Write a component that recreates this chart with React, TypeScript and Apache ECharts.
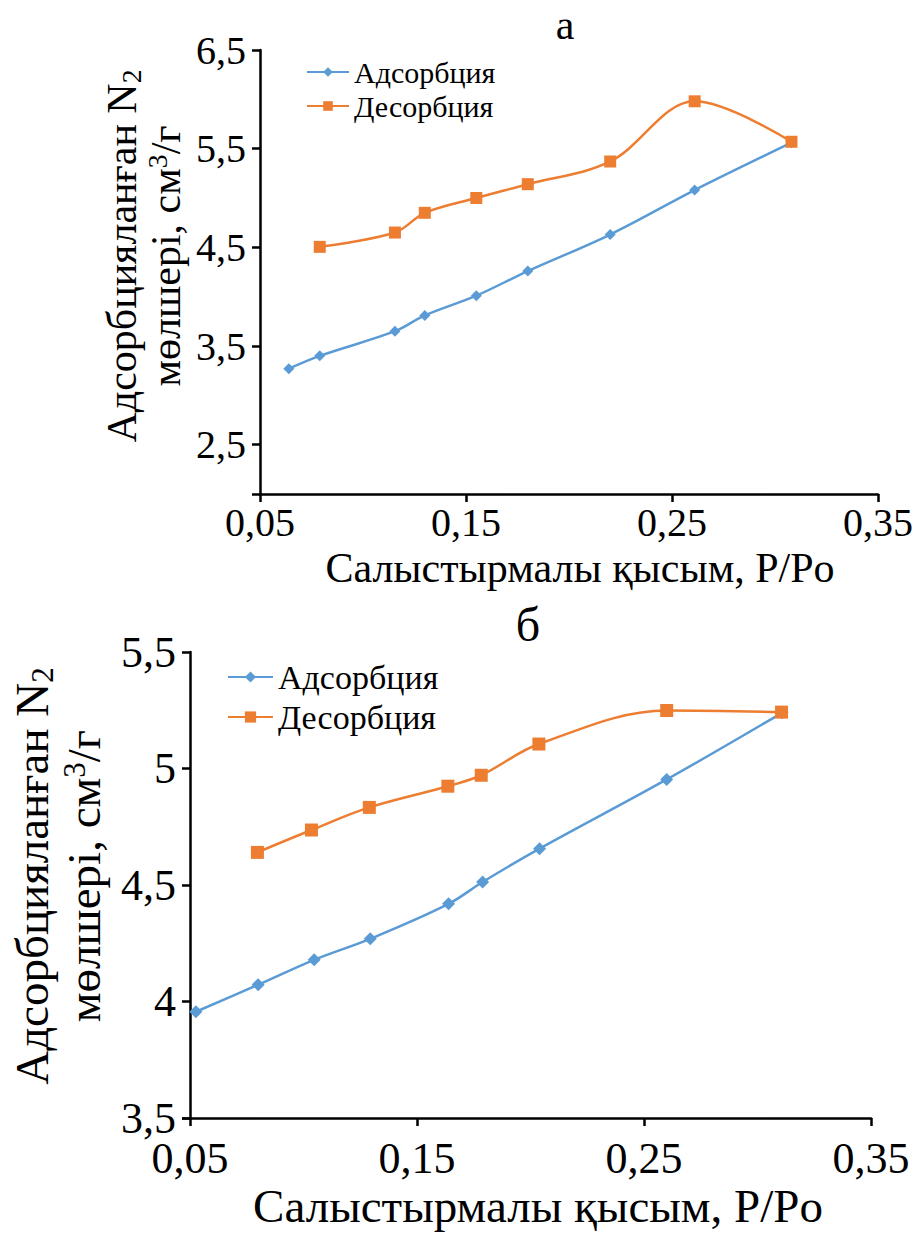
import React, { useEffect, useRef } from 'react';
import * as echarts from 'echarts';

const seriesNames = ['Адсорбция', 'Десорбция'];

// Chart "а"
const aAdsX = [0.064, 0.079, 0.1155, 0.13, 0.155, 0.18, 0.22, 0.261, 0.308];
const aAdsY = [3.27, 3.4, 3.65, 3.81, 4.01, 4.26, 4.63, 5.08, 5.56];
const aDesX = [0.079, 0.1155, 0.13, 0.155, 0.18, 0.22, 0.261, 0.308];
const aDesY = [4.505, 4.65, 4.85, 5.0, 5.14, 5.37, 5.98, 5.57];
const aYLabels = [2.5, 3.5, 4.5, 5.5, 6.5];

// Chart "б"
const bAdsX = [0.0526, 0.08, 0.1047, 0.1294, 0.1639, 0.1789, 0.204, 0.26, 0.3108];
const bAdsY = [3.956, 4.072, 4.179, 4.269, 4.419, 4.513, 4.656, 4.953, 5.239];
const bDesX = [0.0797, 0.1035, 0.129, 0.1636, 0.1783, 0.2037, 0.26, 0.3106];
const bDesY = [4.64, 4.736, 4.833, 4.924, 4.971, 5.105, 5.249, 5.242];
const bYLabels = [3.5, 4, 4.5, 5, 5.5];

const xTickLabels = [0.05, 0.15, 0.25, 0.35];

const FONT = "'Liberation Serif', serif";
const BLUE = '#5B9BD5';
const ORANGE = '#ED7D31';

const zip = (xs: number[], ys: number[]) => xs.map((x, i) => [x, ys[i]]);
const fmt = (v: number) => String(Number(v.toFixed(2))).replace('.', ',');

export default function App() {
  const ref = useRef<HTMLDivElement>(null);
  useEffect(() => {
    document.body.style.margin = '0';
    const chart = echarts.init(ref.current!, null, { renderer: 'svg' });

    const axisLine = { show: true, lineStyle: { color: '#000', width: 2.5 } };
    const xAxisBase = (gi: number, fs: number, margin: number) => ({
      type: 'value',
      gridIndex: gi,
      min: 0.05,
      max: 0.35,
      interval: 0.1,
      axisLine,
      axisTick: { show: true, inside: false, length: 8, lineStyle: { color: '#000', width: 2.5 } },
      axisLabel: {
        customValues: xTickLabels,
        formatter: (v: number) => fmt(v),
        fontFamily: FONT,
        fontSize: fs,
        color: '#000',
        margin,
      },
      splitLine: { show: false },
    });
    const yAxisBase = (gi: number, min: number, max: number, labels: number[], fs: number) => ({
      type: 'value',
      gridIndex: gi,
      min,
      max,
      interval: 0.5,
      axisLine,
      axisTick: {
        show: true,
        inside: false,
        length: 8,
        customValues: [min, ...labels],
        lineStyle: { color: '#000', width: 2.5 },
      },
      axisLabel: {
        customValues: labels,
        formatter: (v: number) => fmt(v),
        fontFamily: FONT,
        fontSize: fs,
        color: '#000',
        margin: 14,
      },
      splitLine: { show: false },
    });

    const mkSeries = (name: string, data: number[][], gi: number, color: string, symbol: string, size: number) => ({
      type: 'line',
      name,
      xAxisIndex: gi,
      yAxisIndex: gi,
      data,
      smooth: 0.35,
      symbol,
      symbolSize: size,
      showSymbol: true,
      lineStyle: { color, width: 2.5 },
      itemStyle: { color },
    });

    const yTitle = (x1: number, x2: number, y: number, fs: number) => [
      {
        type: 'text',
        x: x1,
        y,
        rotation: Math.PI / 2,
        style: {
          text: '{a|Адсорбцияланған N}{s|2}',
          textAlign: 'center',
          textVerticalAlign: 'middle',
          fill: '#000',
          rich: {
            a: { fontFamily: FONT, fontSize: fs, lineHeight: fs + 4, fill: '#000' },
            s: { fontFamily: FONT, fontSize: fs * 0.66, lineHeight: fs * 0.66, verticalAlign: 'bottom', fill: '#000' },
          },
        },
      },
      {
        type: 'text',
        x: x2,
        y,
        rotation: Math.PI / 2,
        style: {
          text: '{a|мөлшері, см}{s|3}{a|/г}',
          textAlign: 'center',
          textVerticalAlign: 'middle',
          fill: '#000',
          rich: {
            a: { fontFamily: FONT, fontSize: fs, lineHeight: fs + 4, fill: '#000' },
            s: { fontFamily: FONT, fontSize: fs * 0.66, lineHeight: fs * 0.66, verticalAlign: 'top', fill: '#000' },
          },
        },
      },
    ];

    chart.setOption({
      animation: false,
      backgroundColor: '#fff',
      legend: [
        {
          data: seriesNames,
          orient: 'vertical',
          left: 301,
          top: 50,
          itemWidth: 42,
          itemHeight: 12,
          itemGap: 0,
          textStyle: { fontFamily: FONT, fontSize: 30, color: '#000', lineHeight: 34 },
        },
        {
          data: seriesNames,
          orient: 'vertical',
          left: 222,
          top: 652,
          itemWidth: 45,
          itemHeight: 14,
          itemGap: 0,
          textStyle: { fontFamily: FONT, fontSize: 34, color: '#000', lineHeight: 40 },
        },
      ],
      grid: [
        { left: 260, right: 42, top: 50, bottom: 740, containLabel: false },
        { left: 190, right: 49, top: 652, bottom: 116, containLabel: false },
      ],
      xAxis: [xAxisBase(0, 40, 8), xAxisBase(1, 44, 18)],
      yAxis: [yAxisBase(0, 2, 6.5, aYLabels, 40), yAxisBase(1, 3.5, 5.5, bYLabels, 44)],
      series: [
        mkSeries(seriesNames[0], zip(aAdsX, aAdsY), 0, BLUE, 'diamond', 11),
        mkSeries(seriesNames[1], zip(aDesX, aDesY), 0, ORANGE, 'rect', 12),
        mkSeries(seriesNames[0], zip(bAdsX, bAdsY), 1, BLUE, 'diamond', 13),
        mkSeries(seriesNames[1], zip(bDesX, bDesY), 1, ORANGE, 'rect', 13),
      ],
      graphic: [
        {
          type: 'text',
          x: 565,
          y: 25,
          style: { text: 'а', fontFamily: FONT, fontSize: 42, fill: '#000', textAlign: 'center', textVerticalAlign: 'middle' },
        },
        {
          type: 'text',
          x: 528,
          y: 624,
          style: { text: 'б', fontFamily: FONT, fontSize: 48, fill: '#000', textAlign: 'center', textVerticalAlign: 'middle' },
        },
        {
          type: 'text',
          x: 580,
          y: 568,
          style: { text: 'Салыстырмалы қысым, P/Po', fontFamily: FONT, fontSize: 42, fill: '#000', textAlign: 'center', textVerticalAlign: 'middle' },
        },
        {
          type: 'text',
          x: 538,
          y: 1206,
          style: { text: 'Салыстырмалы қысым, P/Po', fontFamily: FONT, fontSize: 47, fill: '#000', textAlign: 'center', textVerticalAlign: 'middle' },
        },
        ...yTitle(122, 166, 256, 42),
        ...yTitle(32, 84, 876, 47),
      ],
    });
    return () => chart.dispose();
  }, []);
  return <div ref={ref} style={{ width: 920, height: 1234 }} />;
}
